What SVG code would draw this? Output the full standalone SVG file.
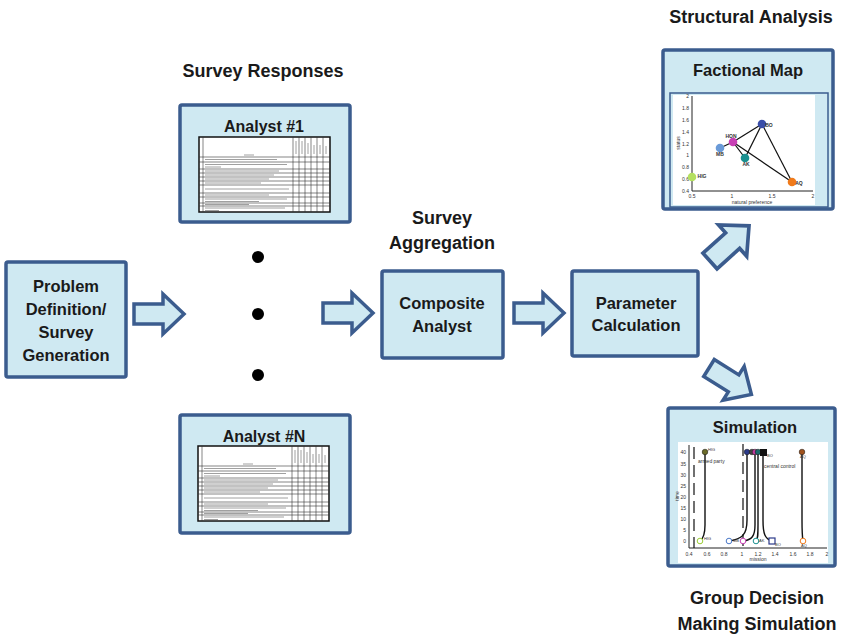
<svg xmlns="http://www.w3.org/2000/svg" width="846" height="637" viewBox="0 0 846 637">
<style>
.box{fill:#cfe9f2;stroke:#3b5c8e;stroke-width:3.5}
.t{font-family:"Liberation Sans",Arial,sans-serif;font-weight:bold;fill:#1a1a1a;text-anchor:middle}
.lbl{font-size:16.5px}
.ttl{font-size:18px}
.arr{fill:#cfe9f2;stroke:#3b5c8e;stroke-width:3.5;stroke-linejoin:miter}
.tk{font-family:"Liberation Sans",Arial,sans-serif;font-size:5px;fill:#333;text-anchor:middle}
.ax{stroke:#222;stroke-width:1;fill:none}
.gx{stroke:#888;stroke-width:0.8}
.traj{stroke:#111;stroke-width:1.4;fill:none}
.fl{stroke:#111;stroke-width:1.2}
</style>
<defs>
<path id="arrow" d="M0,-10 H29 V-20 L50,0 L29,20 V10 H0 Z"/>
<g id="table">
<rect x="0" y="0" width="131" height="75" fill="#fff" stroke="#111" stroke-width="1.5"/>
<g stroke="#333" stroke-width="0.6" fill="none">
<line x1="4" y1="0" x2="4" y2="75"/>
<line x1="94" y1="0" x2="94" y2="75"/>
<line x1="100" y1="0" x2="100" y2="75"/>
<line x1="106" y1="0" x2="106" y2="75"/>
<line x1="112" y1="0" x2="112" y2="75"/>
<line x1="118" y1="0" x2="118" y2="75"/>
<line x1="124" y1="0" x2="124" y2="75"/>
<line x1="0" y1="20" x2="131" y2="20"/>
<line x1="0" y1="25" x2="131" y2="25"/>
<line x1="0" y1="32" x2="131" y2="32"/>
<line x1="0" y1="36" x2="131" y2="36"/>
<line x1="0" y1="40" x2="131" y2="40"/>
<line x1="0" y1="44" x2="131" y2="44"/>
<line x1="0" y1="48" x2="131" y2="48"/>
<line x1="0" y1="56" x2="131" y2="56"/>
<line x1="0" y1="60" x2="131" y2="60"/>
<line x1="0" y1="66" x2="131" y2="66"/>
<line x1="0" y1="69" x2="131" y2="69"/>
</g>
<g class="gx">
<line x1="45" y1="18" x2="55" y2="18"/>
<line x1="97" y1="4" x2="97" y2="17"/>
<line x1="103" y1="4" x2="103" y2="17"/>
<line x1="109" y1="6" x2="109" y2="17"/>
<line x1="115" y1="8" x2="115" y2="17"/>
<line x1="121" y1="8" x2="121" y2="17"/>
<line x1="127" y1="9" x2="127" y2="17"/>
<line x1="6" y1="22.5" x2="78" y2="22.5"/>
<line x1="6" y1="27.5" x2="88" y2="27.5"/>
<line x1="6" y1="30" x2="22" y2="30"/>
<line x1="6" y1="34" x2="80" y2="34"/>
<line x1="6" y1="38" x2="75" y2="38"/>
<line x1="6" y1="42" x2="70" y2="42"/>
<line x1="6" y1="46" x2="62" y2="46"/>
<line x1="6" y1="52" x2="90" y2="52"/>
<line x1="6" y1="58" x2="70" y2="58"/>
<line x1="6" y1="62" x2="88" y2="62"/>
<line x1="6" y1="64.5" x2="60" y2="64.5"/>
<line x1="6" y1="67.5" x2="50" y2="67.5"/>
<line x1="6" y1="71" x2="86" y2="71"/>
<line x1="6" y1="73.5" x2="20" y2="73.5"/>
</g>
</g>
</defs>

<text class="t ttl" x="263" y="77">Survey Responses</text>
<text class="t ttl" x="442" y="224">Survey</text>
<text class="t ttl" x="442" y="249">Aggregation</text>
<text class="t ttl" x="751" y="23">Structural Analysis</text>
<text class="t ttl" x="757" y="604">Group Decision</text>
<text class="t ttl" x="757" y="630">Making Simulation</text>

<g id="problem">
<rect class="box" x="6" y="262" width="120" height="115" rx="2"/>
<text class="t lbl" x="66" y="292">Problem</text>
<text class="t lbl" x="66" y="315">Definition/</text>
<text class="t lbl" x="66" y="338">Survey</text>
<text class="t lbl" x="66" y="361">Generation</text>
</g>

<g id="analyst1">
<rect class="box" x="180" y="105" width="170" height="117" rx="2"/>
<text class="t" style="font-size:16px" x="264" y="132">Analyst #1</text>
<use href="#table" x="199" y="137"/>
</g>

<g id="analystN">
<rect class="box" x="180" y="415" width="170" height="118" rx="2"/>
<text class="t" style="font-size:16px" x="264" y="442">Analyst #N</text>
<use href="#table" x="198" y="446"/>
</g>

<g id="ellipsis">
<circle cx="258" cy="257" r="6" fill="#000"/>
<circle cx="258" cy="314" r="6" fill="#000"/>
<circle cx="258" cy="375" r="6" fill="#000"/>
</g>

<g id="composite">
<rect class="box" x="382" y="271" width="121" height="87" rx="2"/>
<text class="t lbl" x="442" y="309">Composite</text>
<text class="t lbl" x="442" y="332">Analyst</text>
</g>

<g id="parameter">
<rect class="box" x="572" y="271" width="126" height="85" rx="2"/>
<text class="t lbl" x="636" y="309">Parameter</text>
<text class="t lbl" x="636" y="331">Calculation</text>
</g>

<g id="factional">
<rect class="box" x="663" y="50" width="170" height="159" rx="2"/>
<text class="t" style="font-size:16.5px" x="748" y="76">Factional Map</text>
<rect x="670" y="93" width="158" height="114" fill="#cfe9f2" stroke="#3b5c8e" stroke-width="1.5"/>
<rect x="673" y="95" width="142" height="110" fill="#fff"/>
<line class="ax" x1="692" y1="96" x2="692" y2="191"/>
<line class="ax" x1="692" y1="191" x2="813" y2="191"/>
<g class="tk" style="text-anchor:end">
<text x="689" y="98">2</text><text x="689" y="110">1.8</text><text x="689" y="122">1.6</text>
<text x="689" y="134">1.4</text><text x="689" y="146">1.2</text><text x="689" y="157">1</text>
<text x="689" y="169">0.8</text><text x="689" y="181">0.6</text><text x="689" y="193">0.4</text>
</g>
<g class="tk">
<text x="692" y="198">0.5</text><text x="732" y="198">1</text><text x="772" y="198">1.5</text><text x="813" y="198">2</text>
<text x="752" y="204">natural preference</text>
<text x="0" y="0" transform="translate(680,143) rotate(-90)">status</text>
</g>
<line class="fl" x1="733" y1="142" x2="762" y2="124" stroke-width="2"/>
<line class="fl" x1="720" y1="148" x2="733" y2="142" stroke-width="2"/>
<line class="fl" x1="733" y1="142" x2="745" y2="158"/>
<line class="fl" x1="762" y1="124" x2="745" y2="158"/>
<line class="fl" x1="733" y1="142" x2="792" y2="182"/>
<line class="fl" x1="762" y1="124" x2="792" y2="182"/>
<circle cx="762" cy="124" r="4.3" fill="#3a4ea8"/>
<circle cx="733" cy="142" r="4.3" fill="#c83fb5"/>
<circle cx="720" cy="148" r="4.3" fill="#6a9ad8"/>
<circle cx="745" cy="158" r="4.3" fill="#1a9090"/>
<circle cx="792" cy="182" r="4.3" fill="#f07a1a"/>
<circle cx="692" cy="177" r="4.3" fill="#b4e060"/>
<g class="tk" style="font-weight:bold;font-size:5px">
<text x="769" y="127">BO</text><text x="731" y="138">HON</text><text x="720" y="156">MB</text>
<text x="746" y="166">AK</text><text x="799" y="185">AQ</text><text x="702" y="178">HIG</text>
</g>
</g>

<g id="simulation">
<rect class="box" x="668" y="408" width="167" height="158" rx="2"/>
<text class="t" style="font-size:16.5px" x="755" y="433">Simulation</text>
<rect x="678" y="442" width="150" height="121" fill="#fff"/>
<line class="ax" x1="689" y1="445" x2="689" y2="548"/>
<line class="ax" x1="689" y1="548" x2="827" y2="548"/>
<g class="tk" style="text-anchor:end">
<text x="686" y="543">0</text><text x="686" y="532">5</text><text x="686" y="521">10</text>
<text x="686" y="510">15</text><text x="686" y="499">20</text><text x="686" y="488">25</text>
<text x="686" y="477">30</text><text x="686" y="466">35</text><text x="686" y="454">40</text>
</g>
<g class="tk">
<text x="689" y="556">0.4</text><text x="707" y="556">0.6</text><text x="724" y="556">0.8</text>
<text x="742" y="556">1</text><text x="758" y="556">1.2</text><text x="775" y="556">1.4</text>
<text x="793" y="556">1.6</text><text x="810" y="556">1.8</text><text x="827" y="556">2</text>
<text x="758" y="561">mission</text>
<text x="0" y="0" transform="translate(679,496) rotate(-90)">time</text>
<text x="698" y="463" style="text-anchor:start">armed party</text>
<text x="764" y="468" style="text-anchor:start">central control</text>
</g>
<line x1="694" y1="447" x2="694" y2="548" stroke="#111" stroke-width="1.2" stroke-dasharray="12,6"/>
<line x1="743" y1="444" x2="743" y2="548" stroke="#111" stroke-width="1.2" stroke-dasharray="12,6"/>
<path class="traj" d="M700,541 C704,538 705,532 705,525 L705,452"/>
<path class="traj" d="M729,541 C742,539 747,535 747,520 L747,452"/>
<path class="traj" d="M743,541 C752,540 755,536 755,525 L755,452"/>
<path class="traj" d="M756,541 C758,539 758,535 758,525 L758,452"/>
<path class="traj" d="M772,541 C765,539 763,534 763,520 L763,452"/>
<path class="traj" d="M803,541 C802,535 802,530 802,520 L802,452"/>
<circle cx="705" cy="452" r="2.8" fill="#6b6b2a" stroke="#111" stroke-width="0.5"/>
<circle cx="747" cy="452" r="2.8" fill="#2b3a8a" stroke="#111" stroke-width="0.5"/>
<circle cx="752" cy="452" r="2.8" fill="#444" stroke="#111" stroke-width="0.5"/>
<circle cx="755" cy="452" r="2.8" fill="#c43da0" stroke="#111" stroke-width="0.5"/>
<circle cx="758" cy="452" r="2.8" fill="#1a6a6a" stroke="#111" stroke-width="0.5"/>
<rect x="760" y="449" width="7" height="7" fill="#111"/>
<circle cx="802" cy="452" r="2.8" fill="#a0521d" stroke="#111" stroke-width="0.5"/>
<circle cx="700" cy="541" r="2.8" fill="#fff" stroke="#9acd32" stroke-width="1"/>
<circle cx="729" cy="541" r="2.8" fill="#fff" stroke="#4a78c8" stroke-width="1"/>
<circle cx="743" cy="541" r="2.8" fill="#fff" stroke="#c83fb5" stroke-width="1"/>
<circle cx="756" cy="541" r="2.8" fill="#fff" stroke="#1a9090" stroke-width="1"/>
<rect x="769" y="538" width="6" height="6" fill="#fff" stroke="#2b3a8a" stroke-width="1.2"/>
<circle cx="803" cy="541" r="2.8" fill="#fff" stroke="#f07a1a" stroke-width="1"/>
<g class="tk" style="font-size:4px;text-anchor:start">
<text x="708" y="451">HIG</text><text x="704" y="540">HIG</text><text x="733" y="542">MB</text>
<text x="759" y="542">AK</text><text x="767" y="457">BO</text><text x="775" y="546">BO</text>
<text x="800" y="458">AQ</text><text x="801" y="547">AQ</text>
</g>
</g>

<g id="connectors">
<use href="#arrow" class="arr" transform="translate(134,314)"/>
<use href="#arrow" class="arr" transform="translate(323,313)"/>
<use href="#arrow" class="arr" transform="translate(514,313)"/>
<use href="#arrow" class="arr" transform="translate(710,261) rotate(-42) scale(1.05)"/>
<use href="#arrow" class="arr" transform="translate(709,368) rotate(32)"/>
</g>
</svg>
